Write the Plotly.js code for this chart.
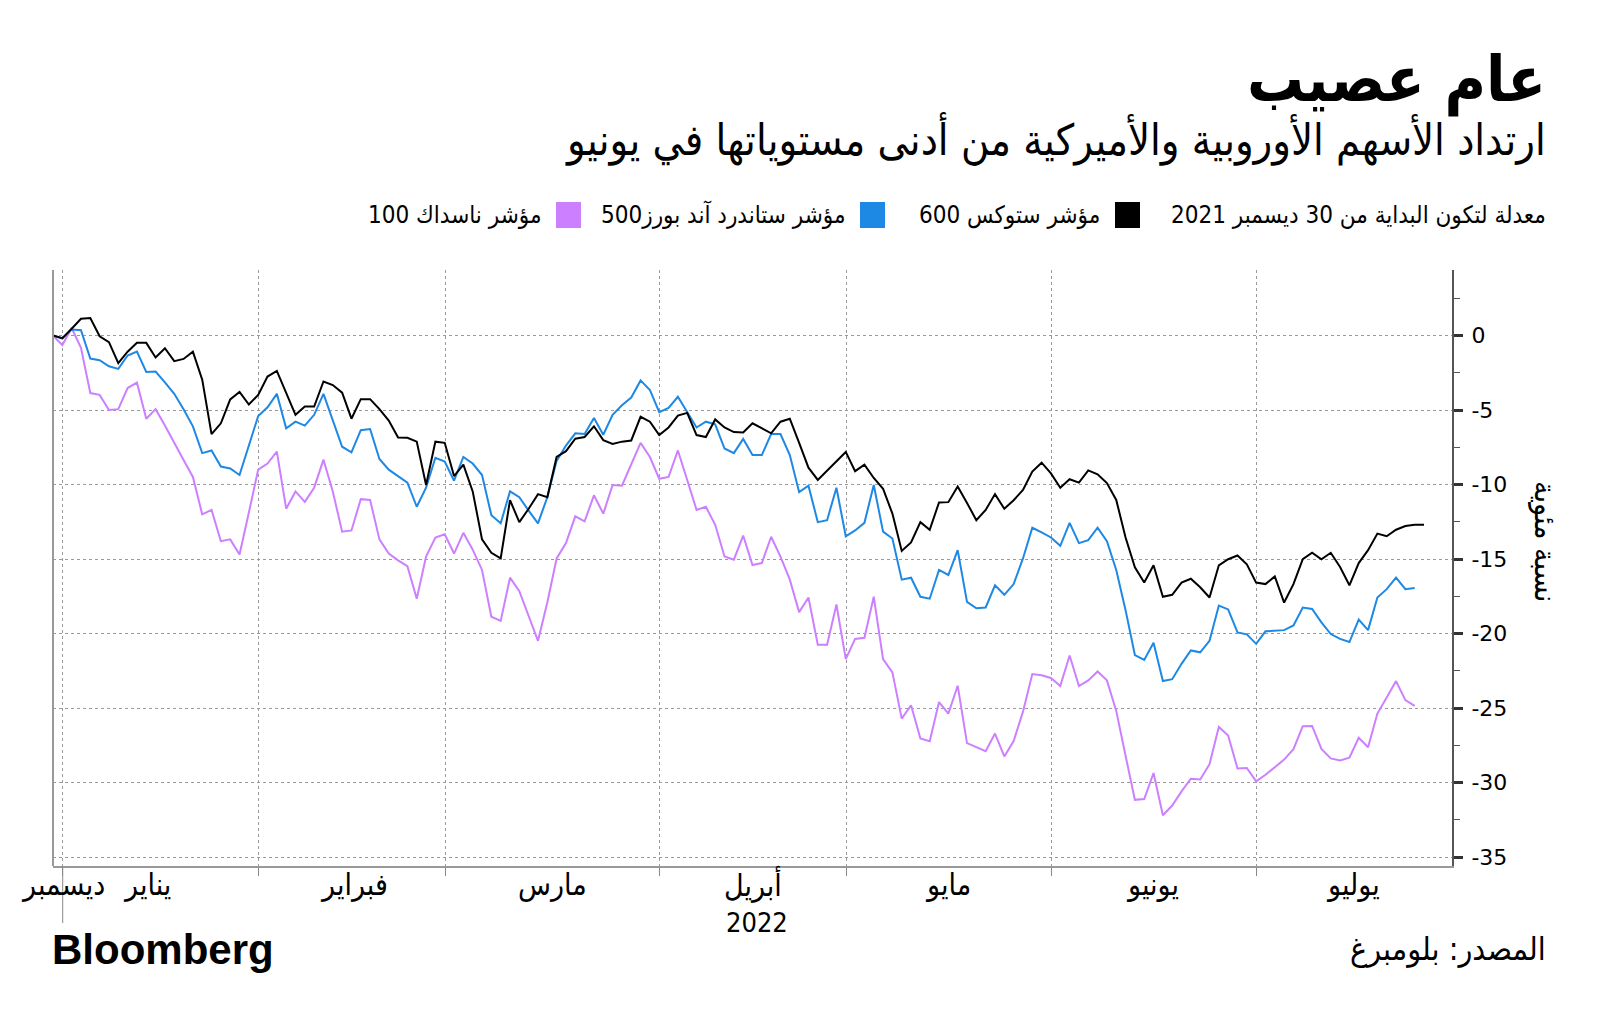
<!DOCTYPE html>
<html>
<head>
<meta charset="utf-8">
<script src="https://cdn.plot.ly/plotly-3.0.1.min.js"></script>
<style>
  html, body { margin: 0; padding: 0; background: #ffffff; }
  #chart { width: 1600px; height: 1028px; }
</style>
</head>
<body>
<div id="chart"></div>
<script>
// ---------------- DATA ----------------
const firstDay = '2021-12-30';
const lastDay = '2022-07-26';
const marketHolidays = ['2022-04-15'];

const seriesNames = ['مؤشر ستوكس 600', 'مؤشر ستاندرد آند بورز500', 'مؤشر ناسداك 100'];

const stoxx600 = [
  0, -0.18, 0.46, 1.13, 1.18, -0.05, -0.44, -1.85, -1.08, -0.49,
  -0.49, -1.47, -0.85, -1.72, -1.57, -1.08, -2.96, -6.61, -5.89, -4.29,
  -3.78, -4.63, -3.98, -2.75, -2.37, -3.91, -5.32, -4.76, -4.76, -3.08,
  -3.32, -3.83, -5.58, -4.27, -4.27, -4.94, -5.71, -6.84, -6.86, -7.12,
  -10.03, -7.12, -7.20, -9.43, -8.66, -10.46, -13.68, -14.58, -14.96, -11.05,
  -12.52, -11.62, -10.64, -10.85, -8.15, -7.76, -6.92, -6.81, -6.09, -7.02,
  -7.28, -7.12, -7.04, -5.45, -5.78, -6.68, -6.17, -5.37, -5.19, -6.68,
  -6.81, -5.63, -6.17, -6.48, -6.50, -5.89, -6.22, -6.56, -5.78, -5.58,
  -7.20, -8.87, -9.69, -9.05, -8.41, -7.81, -9.10, -8.66, -9.56, -10.28,
  -11.95, -14.45, -13.88, -12.52, -13.03, -11.20, -11.18, -10.13, -11.23, -12.39,
  -11.70, -10.64, -11.62, -11.05, -10.36, -9.13, -8.53, -9.25, -10.21, -9.64,
  -9.87, -9.05, -9.31, -9.90, -11.03, -13.55, -15.55, -16.58, -15.42, -17.53,
  -17.40, -16.58, -16.32, -16.89, -17.58, -15.42, -15.01, -14.76, -15.35, -16.58,
  -16.68, -16.17, -17.92, -16.68, -15.01, -14.58, -15.01, -14.58, -15.53, -16.76,
  -15.27, -14.40, -13.29, -13.47, -13.03, -12.78, -12.70, -12.70
];

const sp500 = [
  0, -0.20, 0.41, 0.36, -1.54, -1.65, -2.06, -2.24, -1.34, -1.08,
  -2.44, -2.42, -3.14, -3.91, -4.94, -6.09, -7.89, -7.71, -8.79, -8.92,
  -9.36, -7.38, -5.40, -4.81, -3.91, -6.22, -5.78, -6.04, -5.32, -3.91,
  -5.66, -7.46, -7.84, -6.35, -6.27, -8.28, -9.00, -9.43, -9.87, -11.49,
  -10.21, -8.20, -8.46, -9.74, -8.15, -8.59, -9.36, -12.06, -12.60, -10.46,
  -10.85, -11.75, -12.60, -10.85, -8.41, -7.38, -6.56, -6.61, -5.53, -6.66,
  -5.32, -4.68, -4.16, -3.01, -3.65, -5.14, -4.86, -4.11, -5.14, -6.17,
  -5.78, -5.96, -7.58, -7.89, -6.94, -8.02, -8.02, -6.61, -6.61, -8.02,
  -10.51, -10.08, -12.52, -12.39, -10.21, -13.47, -13.08, -12.57, -10.03, -13.16,
  -13.62, -16.38, -16.25, -17.53, -17.66, -15.73, -16.07, -14.40, -17.87, -18.30,
  -18.25, -16.76, -17.40, -16.68, -14.96, -12.90, -13.21, -13.55, -14.11, -12.57,
  -13.93, -13.73, -12.90, -13.80, -15.73, -18.43, -21.44, -21.77, -20.62, -23.19,
  -23.06, -22.03, -21.13, -21.26, -20.49, -18.12, -18.38, -19.92, -20.05, -20.69,
  -19.85, -19.79, -19.77, -19.46, -18.25, -18.35, -19.25, -20.03, -20.36, -20.57,
  -19.07, -19.77, -17.58, -17.02, -16.25, -17.02, -16.94
];

const nasdaq100 = [
  0, -0.64, 0.51, -0.82, -3.86, -3.98, -4.99, -4.94, -3.52, -3.16,
  -5.58, -4.94, -6.04, -7.25, -8.35, -9.49, -12.00, -11.70, -13.80, -13.68,
  -14.70, -11.88, -9.00, -8.59, -7.79, -11.62, -10.46, -11.16, -10.21, -8.33,
  -10.46, -13.16, -13.08, -10.98, -11.03, -13.68, -14.63, -15.09, -15.48, -17.66,
  -14.83, -13.55, -13.34, -14.63, -13.24, -14.37, -15.73, -18.87, -19.15, -16.25,
  -17.15, -18.82, -20.49, -17.92, -14.96, -13.93, -12.13, -12.47, -10.72, -11.95,
  -10.03, -10.08, -8.66, -7.20, -8.15, -9.61, -9.49, -7.71, -9.69, -11.70,
  -11.49, -12.70, -14.83, -15.04, -13.42, -15.40, -15.27, -13.50, -14.83, -16.38,
  -18.56, -17.58, -20.75, -20.75, -18.05, -21.72, -20.36, -20.28, -17.53, -21.72,
  -22.60, -25.71, -24.81, -27.04, -27.22, -24.60, -25.37, -23.50, -27.35, -27.63,
  -27.89, -26.71, -28.25, -27.22, -25.24, -22.72, -22.80, -22.98, -23.52, -21.47,
  -23.52, -23.14, -22.54, -23.14, -25.19, -28.20, -31.16, -31.11, -29.36, -32.19,
  -31.54, -30.59, -29.74, -29.79, -28.77, -26.27, -26.84, -29.05, -29.02, -29.92,
  -29.48, -28.97, -28.46, -27.76, -26.22, -26.20, -27.74, -28.38, -28.51, -28.33,
  -26.99, -27.63, -25.37, -24.29, -23.19, -24.47, -24.86
];

const yTickVals = [0, -5, -10, -15, -20, -25, -30, -35];
const yTickText = ['0', '-5', '-10', '-15', '-20', '-25', '-30', '-35'];
const yMinorTickVals = [2.5, -2.5, -7.5, -12.5, -17.5, -22.5, -27.5, -32.5];

const monthLabels = ['ديسمبر', 'يناير', 'فبراير', 'مارس', 'أبريل', 'مايو', 'يونيو', 'يوليو'];
const monthLabelAt = ['2021-12-31 23:59', '2022-01-14 00:00', '2022-02-15 06:00', '2022-03-16 13:00',
                      '2022-04-14 23:00', '2022-05-16 23:00', '2022-06-15 21:00', '2022-07-15 09:00'];
const yearLabel = '2022';
const yearLabelAt = '2022-04-18 11:00';

const titleText = 'عام عصيب';
const subtitleText = 'ارتداد الأسهم الأوروبية والأميركية من أدنى مستوياتها في يونيو';
const noteText = 'معدلة لتكون البداية من 30 ديسمبر 2021';
const yTitleText = 'نسبة مئوية';
const sourceText = 'المصدر: بلومبرغ';
const brandText = 'Bloomberg';

const colors = ['#000000', '#1e88e5', '#cc80ff'];

// ---------------- TRADING DATES ----------------
function pad(n) { return (n < 10 ? '0' : '') + n; }
function ymd(d) { return d.getUTCFullYear() + '-' + pad(d.getUTCMonth() + 1) + '-' + pad(d.getUTCDate()); }
const tradingDays = [];
(function () {
  const d = new Date(firstDay + 'T00:00:00Z');
  const end = new Date(lastDay + 'T00:00:00Z');
  while (d <= end) {
    const wd = d.getUTCDay();
    const s = ymd(d);
    if (wd !== 0 && wd !== 6 && marketHolidays.indexOf(s) < 0) tradingDays.push(s);
    d.setUTCDate(d.getUTCDate() + 1);
  }
})();
const xDates = tradingDays.map(s => s + ' 23:00');

// month boundaries: just after the last trading day of each month
const monthBounds = [];
for (let i = 1; i < tradingDays.length; i++) {
  if (tradingDays[i].slice(5, 7) !== tradingDays[i - 1].slice(5, 7)) monthBounds.push(tradingDays[i - 1] + ' 23:59');
}
const yearBound = monthBounds[0];

// ---------------- LAYOUT HELPERS ----------------
const W = 1600, H = 1028;
const M = { l: 53, r: 148, t: 270, b: 162 };
const PW = W - M.l - M.r, PH = H - M.t - M.b;
const px = x => (x - M.l) / PW;
const py = y => (H - M.b - y) / PH;

const arFont = 'DejaVu Sans Condensed, DejaVu Sans, sans-serif';

const traces = [stoxx600, sp500, nasdaq100].map((vals, i) => ({
  type: 'scatter',
  mode: 'lines',
  name: seriesNames[i],
  x: xDates.slice(0, vals.length),
  y: vals,
  line: { color: colors[i], width: 2 },
  hoverinfo: 'x+y',
  showlegend: false
}));
// draw purple under blue under black
traces.reverse();

const annotations = [];
const shapes = [];

// Titles
annotations.push({ xref: 'paper', yref: 'paper', x: px(1548), y: py(80), xanchor: 'right', yanchor: 'middle',
  text: '<b>' + titleText + '</b>', showarrow: false, font: { family: arFont, size: 63, color: '#000' } });
annotations.push({ xref: 'paper', yref: 'paper', x: px(1548), y: py(139), xanchor: 'right', yanchor: 'middle',
  text: subtitleText, showarrow: false, font: { family: arFont, size: 43, color: '#000' } });

// Legend row
const legendY = 215;
annotations.push({ xref: 'paper', yref: 'paper', x: px(1548), y: py(legendY), xanchor: 'right', yanchor: 'middle',
  text: noteText, showarrow: false, font: { family: arFont, size: 24, color: '#000' } });
const swatchRight = [1140, 885, 581];
seriesNames.forEach((nm, i) => {
  const r = swatchRight[i];
  shapes.push({ type: 'rect', xref: 'paper', yref: 'paper', x0: px(r - 25), x1: px(r), y0: py(legendY + 13), y1: py(legendY - 13),
    fillcolor: colors[i], line: { width: 0 } });
  annotations.push({ xref: 'paper', yref: 'paper', x: px(r - 38), y: py(legendY), xanchor: 'right', yanchor: 'middle',
    text: nm, showarrow: false, font: { family: arFont, size: 24, color: '#000' } });
});

// Month labels
monthLabels.forEach((lab, i) => {
  annotations.push({ xref: 'x', yref: 'paper', x: monthLabelAt[i], y: py(884), xanchor: 'center', yanchor: 'middle',
    text: lab, showarrow: false, font: { family: arFont, size: 30, color: '#000' } });
});
annotations.push({ xref: 'x', yref: 'paper', x: yearLabelAt, y: py(922), xanchor: 'center', yanchor: 'middle',
  text: yearLabel, showarrow: false, font: { family: arFont, size: 27, color: '#000' } });

// Y title
annotations.push({ xref: 'paper', yref: 'paper', x: px(1546), y: py(541), xanchor: 'center', yanchor: 'middle',
  textangle: 90, text: yTitleText, showarrow: false, font: { family: arFont, size: 30, color: '#000' } });

// Footer
annotations.push({ xref: 'paper', yref: 'paper', x: px(1548), y: py(949), xanchor: 'right', yanchor: 'middle',
  text: sourceText, showarrow: false, font: { family: arFont, size: 32, color: '#000' } });
annotations.push({ xref: 'paper', yref: 'paper', x: px(50), y: py(949), xanchor: 'left', yanchor: 'middle',
  text: '<b>' + brandText + '</b>', showarrow: false, font: { family: 'Liberation Sans, Arial, sans-serif', size: 42, color: '#000' } });

// Left border + year tick
shapes.push({ type: 'line', xref: 'paper', yref: 'paper', x0: 0, x1: 0, y0: 0, y1: 1, line: { color: '#999', width: 2 } });
shapes.push({ type: 'line', xref: 'x', yref: 'paper', x0: yearBound, x1: yearBound, y0: 0, y1: py(923), line: { color: '#888', width: 1 } });

const layout = {
  width: W, height: H,
  margin: M,
  paper_bgcolor: '#ffffff', plot_bgcolor: '#ffffff',
  showlegend: false,
  xaxis: {
    type: 'date',
    range: ['2021-12-30 23:00', '2022-07-29 23:00'],
    rangebreaks: [{ bounds: ['sat', 'mon'] }, { values: marketHolidays }],
    tickmode: 'array', tickvals: monthBounds, ticktext: monthBounds.map(() => ''),
    showticklabels: false,
    ticks: 'outside', ticklen: 8, tickcolor: '#888', tickwidth: 1,
    showgrid: true, gridcolor: '#9a9a9a', gridwidth: 1, griddash: 'dot',
    showline: true, linecolor: '#999', linewidth: 2,
    zeroline: false, fixedrange: true
  },
  yaxis: {
    side: 'right',
    range: [-35.6, 4.4],
    tickmode: 'array', tickvals: yTickVals, ticktext: yTickText,
    ticks: 'outside', ticklen: 9, tickwidth: 3, tickcolor: '#333',
    minor: { tickmode: 'array', tickvals: yMinorTickVals, ticks: 'outside', ticklen: 6, tickcolor: '#555', tickwidth: 1, showgrid: false },
    ticklabelstandoff: 4,
    tickfont: { family: 'DejaVu Sans, sans-serif', size: 22, color: '#000' },
    showgrid: true, gridcolor: '#9a9a9a', gridwidth: 1, griddash: 'dot',
    showline: true, linecolor: '#555', linewidth: 2,
    zeroline: false, fixedrange: true
  },
  annotations: annotations,
  shapes: shapes
};

Plotly.newPlot('chart', traces, layout, { displayModeBar: false, staticPlot: true });
</script>
</body>
</html>
